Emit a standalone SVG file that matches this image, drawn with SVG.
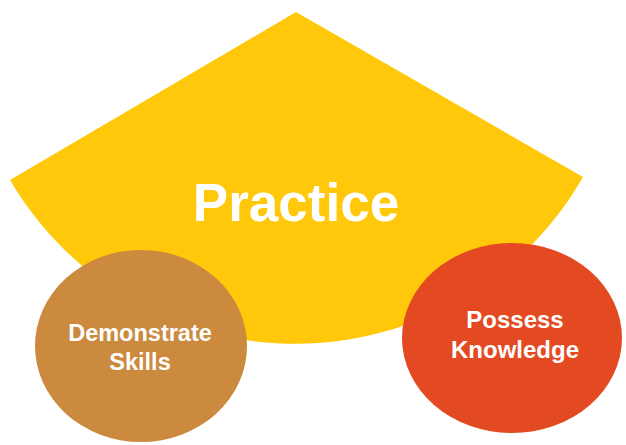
<svg xmlns="http://www.w3.org/2000/svg" width="626" height="445" viewBox="0 0 626 445">
<style>
.lbl{font-family:"Liberation Sans",Arial,sans-serif;font-weight:bold;fill:#ffffff;text-anchor:middle}
</style>
<rect width="626" height="445" fill="#ffffff"/>
<g id="practice">
<path d="M296,12 L10,180 A331,331 0 0 0 583,177 Z" fill="#FFC80A"/>
<text class="lbl" x="296" y="221" font-size="53">Practice</text>
</g>
<g id="demonstrate-skills">
<ellipse cx="141" cy="346" rx="106" ry="96" fill="#CC8A3F"/>
<text class="lbl" x="140" y="341" font-size="23.5">Demonstrate</text>
<text class="lbl" x="140" y="370" font-size="23.5">Skills</text>
</g>
<g id="possess-knowledge">
<ellipse cx="512" cy="338" rx="110" ry="95" fill="#E34A22"/>
<text class="lbl" x="515" y="328" font-size="24">Possess</text>
<text class="lbl" x="515" y="358" font-size="24">Knowledge</text>
</g>
<g id="connectors"/>
</svg>
